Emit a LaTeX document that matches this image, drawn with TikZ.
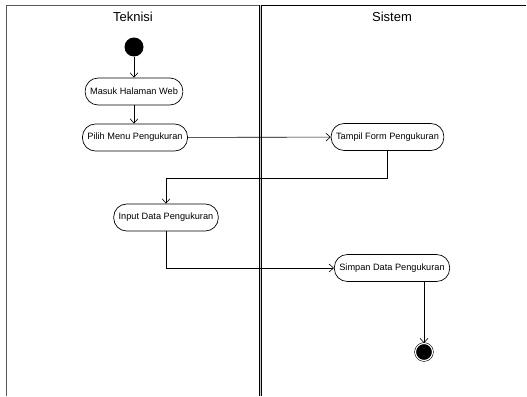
\documentclass[tikz,border=0pt]{standalone}
\usepackage{fontspec}
\setmainfont{Liberation Sans}
\usetikzlibrary{positioning,arrows.meta}

\tikzset{
  act/.style={draw, line width=.7pt, rounded corners=13pt, minimum height=27pt,
    inner xsep=5pt, font=\fontsize{9.2}{10}\selectfont},
  lanetitle/.style={font=\fontsize{13}{15}\selectfont},
  startnode/.style={circle, fill=black, minimum size=19pt, inner sep=0pt},
  endnode/.style={circle, draw, fill=black, line width=.6pt, double=white,
    double distance=1.1pt, minimum size=17pt, inner sep=0pt},
  flow/.style={-{Straight Barb[length=4.5pt,width=8pt]}, line width=.6pt}
}

\begin{document}
\begin{tikzpicture}[x=1pt,y=-1pt]
    \useasboundingbox (0,0) rectangle (527,396);

    % swimlanes
    \draw[line width=.8pt, gray!70!black] (6,396) -- (6,5) -- (260,5);
    \draw[line width=.8pt] (260,5) -- (526,5);
    \draw[line width=.6pt, double=gray!40, double distance=1pt] (260.5,5) -- (260.5,396);

    \node[lanetitle] (teknisi) at (133,17) {Teknisi};
    \node[lanetitle] (sistem) at (392,17) {Sistem};

    % activities
    \node[startnode] (start) at (134,47) {};
    \node[act] (masuk) at (134,91.5) {Masuk Halaman Web};
    \node[act] (pilih) at (135,137.5) {Pilih Menu Pengukuran};
    \node[act] (tampil) at (387.5,137) {Tampil Form Pengukuran};
    \node[act] (input) at (166,217.5) {Input Data Pengukuran};
    \node[act] (simpan) at (392,268) {Simpan Data Pengukuran};
    \node[endnode] (stop) at (424,352) {};

    % flows
    \coordinate (bend) at (387.5,178);
    \draw[flow] (start) -- (masuk);
    \draw[flow] (masuk) -- (masuk.south |- pilih.north);
    \draw[flow] (pilih) -- (tampil);
    \draw[flow] (tampil.south) -- (bend) -| (input.north);
    \draw[flow] (input.south) |- (simpan.west);
    \draw[flow] (simpan.south -| stop) -- (stop);
\end{tikzpicture}
\end{document}
